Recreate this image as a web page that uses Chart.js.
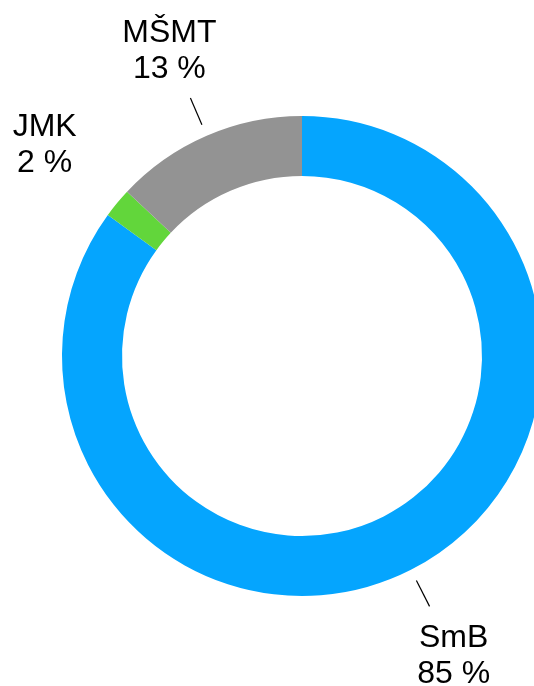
<!DOCTYPE html>
<html>
<head>
<meta charset="utf-8">
<script src="https://cdn.jsdelivr.net/npm/chart.js@4"></script>
<style>
  html, body { margin: 0; padding: 0; background: #fff; overflow: hidden; }
  #wrap { width: 604px; height: 686px; }
</style>
</head>
<body>
<div id="wrap"><canvas id="myChart" width="604" height="686"></canvas></div>
<script>
const categories = ['SmB', 'JMK', 'MŠMT'];
const shares = [85, 2, 13];
const sliceColors = ['#05A5FE', '#62D63B', '#939393'];
// JMK is too thin for a leader line in the original
const showLeader = [true, false, true];

// labels + little leader lines outside the ring
const outsideLabels = {
    id: 'outsideLabels',
    afterDraw(chart) {
        const ctx = chart.ctx;
        const arcs = chart.getDatasetMeta(0).data;
        ctx.save();
        ctx.fillStyle = '#000';
        ctx.strokeStyle = '#000';
        ctx.lineWidth = 1.2;
        ctx.font = '32px "Liberation Sans", Arial, sans-serif';
        ctx.textAlign = 'center';
        ctx.textBaseline = 'alphabetic';
        arcs.forEach(function (arc, i) {
            const mid = (arc.startAngle + arc.endAngle) / 2;
            const r = arc.outerRadius;
            const cos = Math.cos(mid), sin = Math.sin(mid);
            if (showLeader[i]) {
                ctx.beginPath();
                ctx.moveTo(arc.x + cos * (r + 12), arc.y + sin * (r + 12));
                ctx.lineTo(arc.x + cos * (r + 41), arc.y + sin * (r + 41));
                ctx.stroke();
            }
            const px = arc.x + cos * (r + 94);
            const py = arc.y + sin * (r + 94);
            ctx.fillText(categories[i], px, py - 7);
            ctx.fillText(shares[i] + ' %', px, py + 29);
        });
        ctx.restore();
    }
};

new Chart(document.getElementById('myChart'), {
    type: 'doughnut',
    data: {
        labels: categories,
        datasets: [{
            data: shares,
            backgroundColor: sliceColors,
            borderWidth: 0
        }]
    },
    options: {
        responsive: false,
        animation: false,
        cutout: '75%',
        layout: { padding: { top: 116, bottom: 90, left: 0, right: 0 } },
        plugins: {
            legend: { display: false },
            tooltip: { enabled: false }
        }
    },
    plugins: [outsideLabels]
});
</script>
</body>
</html>
